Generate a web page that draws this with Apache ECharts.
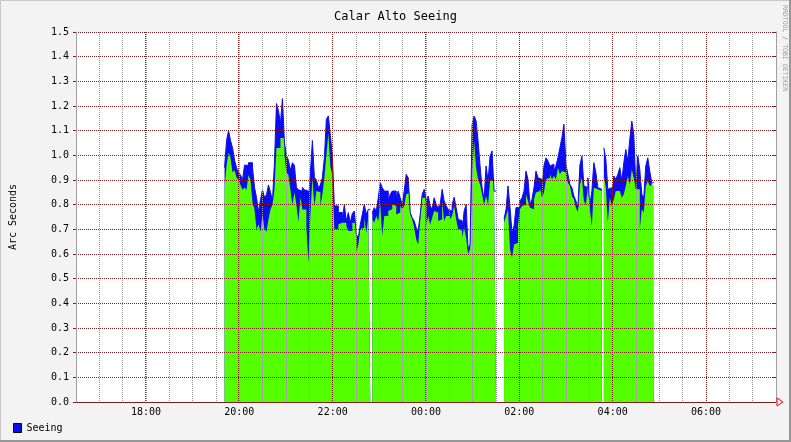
<!DOCTYPE html>
<html><head><meta charset="utf-8">
<script src="https://cdn.jsdelivr.net/npm/echarts@6/dist/echarts.min.js"></script>
<style>html,body{margin:0;padding:0;background:#f3f3f3}#c{width:791px;height:442px}</style>
</head><body><div id="c"></div>
<script>
const chartTitle = 'Calar Alto Seeing';
const yAxisTitle = 'Arc Seconds';
const seriesName = 'Seeing';
const creditText = 'RRDTOOL / TOBI OETIKER';
const axisStart = [2024, 0, 1, 16, 30];
const axisEnd = [2024, 0, 2, 7, 30];
const majorStart = [2024, 0, 1, 16, 0];
const dataStart = [2024, 0, 1, 19, 41, 0];
const stepSeconds = 154;
const xTickLabels = ['18:00','20:00','22:00','00:00','02:00','04:00','06:00'];
const yTickLabels = ['0.0','0.1','0.2','0.3','0.4','0.5','0.6','0.7','0.8','0.9','1.0','1.1','1.2','1.3','1.4','1.5'];

// upper envelope (blue)
const seeingMax = [
 0.95,1.06,1.10,1.06,1.03,0.98,0.95,0.93,0.92,0.90,
 0.96,0.96,0.97,0.97,0.95,0.87,0.83,0.77,0.82,0.86,
 0.83,0.84,0.88,0.85,0.815,0.97,1.21,1.18,1.13,1.23,
 1.05,1.00,0.98,0.94,0.97,0.96,0.87,0.86,0.855,0.87,
 0.86,0.855,0.81,
 0.93,1.06,0.91,0.90,0.87,0.88,0.91,0.99,1.146,1.16,
 1.08,1.00,0.795,0.795,0.768,0.768,0.74,0.80,0.734,0.768,
 0.727,0.764,0.774,0.68,0.666,0.72,0.761,0.801,0.761,0.781,
 null,0.768,0.788,0.774,0.828,0.889,0.869,0.855,0.855,0.815,
 0.842,0.855,0.855,
 0.828,0.855,0.828,0.801,0.855,0.923,0.909,0.768,0.747,0.734,
 0.707,0.693,0.761,0.842,0.862,0.815,0.835,0.795,0.781,0.828,
 0.801,0.788,0.801,0.862,0.815,0.795,0.781,0.774,0.801,0.83,
 0.788,0.741,0.734,0.693,0.774,0.801,0.62,0.64,1.126,1.159,
 1.14,1.058,
 0.957,0.869,0.822,0.957,0.896,0.997,1.018,0.855,
 null,null,null,null,
 0.741,0.781,0.876,0.788,0.686,0.714,0.788,0.788,0.815,0.828,
 0.855,0.936,0.903,0.80,0.822,0.869,0.936,0.909,0.903,0.869,
 0.957,0.99,0.977,0.957,0.964,0.936,0.957,0.99,1.031,1.072,
 1.126,
 0.964,0.923,0.882,0.869,0.835,0.815,0.79,0.96,0.997,0.876,
 0.869,0.909,0.80,0.855,0.97,0.93,0.869,0.862,null,1.031,
 0.984,0.862,0.869,0.828,0.916,0.903,0.923,0.95,0.896,0.97,
 1.024,0.977,1.065,1.139,1.085,0.882,0.997,0.943,0.842,0.828,
 0.957,0.99,0.936,0.889
];

// lower envelope (green)
const seeingMin = [
 0.86,0.96,1.01,0.99,0.93,0.94,0.91,0.90,0.88,0.86,
 0.87,0.86,0.92,0.90,0.81,0.78,0.70,0.72,0.69,0.76,
 0.70,0.69,0.74,0.78,0.80,0.86,1.03,1.03,1.07,1.07,
 1.00,0.93,0.92,0.86,0.80,0.85,0.80,0.73,0.83,0.78,
 0.78,0.71,0.565,
 0.76,0.91,0.795,0.855,0.85,0.795,0.84,0.91,1.0,1.09,
 0.955,0.92,0.70,0.70,0.72,0.727,0.72,0.727,0.714,0.693,
 0.693,0.727,0.727,0.605,0.639,0.70,0.707,0.747,0.686,0.747,
 null,0.741,0.727,0.754,0.734,0.80,0.673,0.754,0.754,0.774,
 0.781,0.801,0.795,
 0.76,0.768,0.795,0.781,0.795,0.842,0.849,0.761,0.74,0.707,
 0.66,0.639,0.734,0.828,0.828,0.714,0.754,0.72,0.747,0.774,
 0.768,0.734,0.741,0.815,0.734,0.754,0.754,0.741,0.754,0.795,
 0.741,0.70,0.70,0.666,0.707,0.666,0.60,0.62,0.923,1.058,
 0.95,0.903,
 0.882,0.842,0.80,0.835,0.80,0.896,0.896,0.85,
 null,null,null,null,
 0.727,0.754,0.78,0.619,0.585,0.639,0.646,0.72,0.781,0.795,
 0.80,0.842,0.815,0.788,0.781,0.822,0.849,0.855,0.869,0.828,
 0.849,0.903,0.909,0.923,0.903,0.916,0.903,0.95,0.923,0.936,
 0.93,
 0.916,0.889,0.876,0.835,0.822,0.788,0.77,0.88,0.909,0.815,
 0.80,0.876,0.781,0.714,0.869,0.862,0.862,0.855,null,0.916,
 0.869,0.727,0.828,0.795,0.822,0.855,0.855,0.855,0.828,0.842,
 0.876,0.916,0.882,0.943,0.909,0.862,0.862,0.70,0.781,0.768,
 0.876,0.896,0.876,0.882
];

const FONT = 'DejaVu Sans Mono';
const BLUE = '#0c0cf2';
const GREEN = '#54ff00';
const MAJOR = '#821e1e';
const MINOR = '#9a9a9a';
const HOUR = 3600 * 1000;

const tMin = new Date(...axisStart).getTime();
const tMax = new Date(...axisEnd).getTime();
const mMin = new Date(...majorStart).getTime();
const t0 = new Date(...dataStart).getTime();

// plot geometry
const G_LEFT = 75, G_RIGHT = 15, G_TOP = 32, G_BOTTOM = 40;
const pxPerMs = (791 - G_LEFT - G_RIGHT) / (tMax - tMin);
const g2Left = G_LEFT - (tMin - mMin) * pxPerMs;

function stepData(vals) {
  const out = [];
  const st = stepSeconds * 1000;
  vals.forEach((v, i) => {
    const a = t0 + i * st;
    if (v == null) { out.push([a, null]); }
    else { out.push([a, v]); out.push([a + st, v]); }
  });
  return out;
}
function hhmm(val) {
  const d = new Date(val);
  return String(d.getHours()).padStart(2, '0') + ':' + String(d.getMinutes()).padStart(2, '0');
}
function xLabel(val) {
  const s = hhmm(val);
  return xTickLabels.indexOf(s) >= 0 ? s : '';
}

const chart = echarts.init(document.getElementById('c'), null, { renderer: 'canvas' });
const option = {
  animation: false,
  backgroundColor: '#f3f3f3',
  title: {
    text: chartTitle, left: 'center', top: 6,
    textStyle: { fontFamily: FONT, fontSize: 12, fontWeight: 'normal', color: '#000' }
  },
  legend: {
    data: [seriesName], left: 13, top: 423, padding: 0,
    itemWidth: 8, itemHeight: 9, icon: 'rect', itemGap: 5,
    itemStyle: { borderColor: '#000', borderWidth: 1 },
    textStyle: { fontFamily: FONT, fontSize: 10, color: '#000', padding: [0, 0, 0, 0] }
  },
  grid: [
    { left: G_LEFT, right: G_RIGHT, top: G_TOP, bottom: G_BOTTOM, show: true, backgroundColor: '#ffffff', borderWidth: 0 },
    { left: g2Left, right: G_RIGHT, top: G_TOP, bottom: G_BOTTOM, show: false }
  ],
  xAxis: [
    {
      type: 'value', gridIndex: 0, min: tMin, max: tMax, interval: HOUR / 2, position: 'bottom',
      z: 4,
      axisLabel: { formatter: xLabel, interval: 0, fontFamily: FONT, fontSize: 10, color: '#000', margin: 5,
        showMinLabel: true, showMaxLabel: true, hideOverlap: false },
      axisLine: { show: true, onZero: false, lineStyle: { color: MAJOR, width: 1 } },
      axisTick: { show: false },
      splitLine: { show: true, lineStyle: { color: MINOR, width: 1, type: [1, 1] } }
    },
    {
      type: 'value', gridIndex: 1, min: mMin, max: tMax, interval: 2 * HOUR, position: 'bottom',
      z: 5,
      axisLabel: { show: false },
      axisLine: { show: false },
      axisTick: { show: false },
      splitLine: { show: true, showMinLine: false, showMaxLine: false,
        lineStyle: { color: MAJOR, width: 1, type: [1, 1] } }
    }
  ],
  yAxis: [
    {
      type: 'value', gridIndex: 0, min: 0, max: 1.5, interval: 0.1, z: 5,
      name: yAxisTitle, nameLocation: 'middle', nameGap: 58, nameRotate: 90,
      nameTextStyle: { fontFamily: FONT, fontSize: 10, color: '#000' },
      axisLabel: {
        fontFamily: FONT, fontSize: 10, color: '#000', margin: 7,
        formatter: v => yTickLabels[Math.round(v * 10)]
      },
      axisLine: { show: true, lineStyle: { color: '#a0a0a0', width: 1 } },
      axisTick: { show: true, length: 3, lineStyle: { color: MAJOR } },
      splitLine: { show: true, lineStyle: { color: MAJOR, width: 1, type: [1, 1] } }
    },
    {
      type: 'value', gridIndex: 0, min: 0, max: 1.5, interval: 0.1, position: 'right', z: 5,
      axisLabel: { show: false },
      axisLine: { show: true, lineStyle: { color: '#a0a0a0', width: 1 } },
      axisTick: { show: true, inside: true, length: 3, lineStyle: { color: MAJOR } },
      splitLine: { show: false }
    },
    { type: 'value', gridIndex: 1, min: 0, max: 1.5, show: false }
  ],
  series: [
    {
      name: seriesName, type: 'line', xAxisIndex: 0, yAxisIndex: 0,
      data: stepData(seeingMax), showSymbol: false, symbol: 'none', connectNulls: false,
      z: 1,
      itemStyle: { color: BLUE },
      lineStyle: { color: BLUE, width: 1 },
      areaStyle: { color: BLUE, opacity: 1 }
    },
    {
      name: 'min', type: 'line', xAxisIndex: 0, yAxisIndex: 0,
      data: stepData(seeingMin), showSymbol: false, symbol: 'none', connectNulls: false,
      z: 1,
      itemStyle: { color: GREEN },
      lineStyle: { width: 0, color: GREEN },
      areaStyle: { color: GREEN, opacity: 1 }
    }
  ]
};
chart.setOption(option);

const p = chart.convertToPixel({ xAxisIndex: 0, yAxisIndex: 0 }, [tMax, 0]);
chart.setOption({
  graphic: [
    { type: 'polyline', silent: true, shape: { points: [[0, 442], [0, 0], [791, 0]] },
      style: { stroke: '#c8c8c8', lineWidth: 2, fill: null } },
    { type: 'polyline', silent: true, shape: { points: [[0, 441], [790, 441], [790, 0]] },
      style: { stroke: '#969696', lineWidth: 2, fill: null } },
    { type: 'polygon', silent: true, shape: { points: [[p[0] + 1, p[1] - 4], [p[0] + 7, p[1]], [p[0] + 1, p[1] + 4]] },
      style: { stroke: '#ff0000', lineWidth: 1, fill: null }, z: 10 },
    { type: 'text', silent: true, x: 785, y: 5, rotation: -Math.PI / 2,
      style: { text: creditText, fontFamily: FONT, fontSize: 6.5, fill: '#9a9a9a', align: 'left', verticalAlign: 'middle' } }
  ]
});
</script></body></html>
